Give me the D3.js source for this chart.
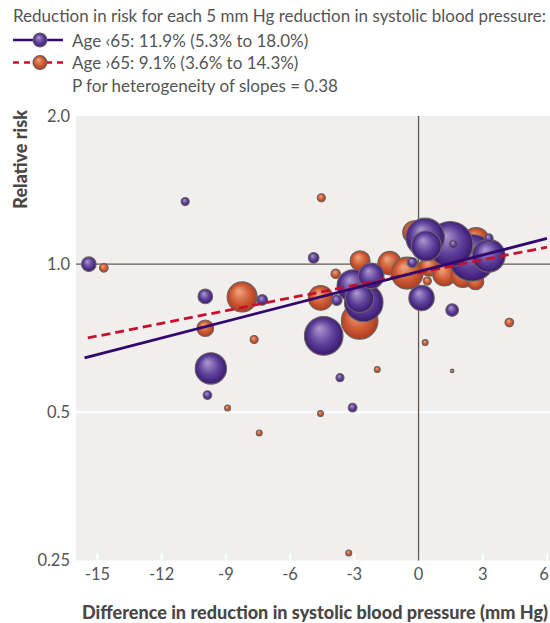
<!DOCTYPE html>
<html><head><meta charset="utf-8">
<script src="https://cdn.jsdelivr.net/npm/d3@7"></script>
<style>
html,body{margin:0;padding:0;background:#fff;}
svg{display:block;font-family:Lato,"Noto Sans",sans-serif;}
</style></head>
<body>
<svg id="chart" width="550" height="623"></svg>
<script>
// ---- data ----
const xTicks = [-15, -12, -9, -6, -3, 0, 3, 6];
const yTicks = [0.25, 0.5, 1.0, 2.0];
const yTickLabels = ["0.25", "0.5", "1.0", "2.0"];

// Age <65 trials: difference in SBP reduction, relative risk, weight
const lt65X  = [2.5, 1.48, 0.31, 0.36, 1.63, 3.28, 3.28, -3.06, -2.56, -2.75, -2.21, -3.82, -0.29, 0.14, 1.57, -4.43, -15.4, -10.9, -4.9, -9.96, -7.3, -9.7, -9.86, -3.67, -3.08];
const lt65RR = [1.03, 1.098, 1.133, 1.089, 1.098, 1.04, 1.129, 0.904, 0.836, 0.852, 0.947, 0.845, 1.008, 0.854, 0.807, 0.715, 1.0, 1.34, 1.03, 0.86, 0.846, 0.614, 0.542, 0.588, 0.511];
const lt65W  = [869, 820, 596, 360, 26, 430, 30, 410, 596, 314, 258, 45, 40, 258, 64, 596, 85, 26, 45, 85, 45, 394, 30, 26, 30];

// Age >=65 trials
const ge65X  = [-14.7, -4.54, -8.24, -9.96, -7.68, -8.92, -7.44, -4.58, -3.26, -1.93, 0.31, 4.24, -4.57, -3.87, -2.75, -2.73, -1.35, -0.53, 0.51, 0.41, -0.19, 2.69, 1.21, 2.07, 2.66, 1.57];
const ge65RR = [0.983, 1.364, 0.858, 0.741, 0.703, 0.51, 0.454, 0.497, 0.259, 0.611, 0.693, 0.761, 0.854, 0.956, 0.767, 1.016, 1.005, 0.959, 0.99, 0.924, 1.16, 1.115, 0.954, 0.947, 0.922, 0.607];
const ge65W  = [30, 26, 360, 110, 26, 14, 14, 14, 14, 14, 14, 30, 242, 35, 536, 160, 220, 410, 160, 26, 220, 283, 220, 220, 110, 5];

// meta-regression lines (endpoints)
const fitLt65X = [-15.6, 6.0], fitLt65RR = [0.645, 1.128];
const fitGe65X = [-15.45, 6.0], fitGe65RR = [0.708, 1.083];

const legendTitle = "Reduction in risk for each 5 mm Hg reduction in systolic blood pressure:";
const legendLabels = ["Age \u203965: 11.9% (5.3% to 18.0%)", "Age \u203a65: 9.1% (3.6% to 14.3%)"];
const legendNote = "P for heterogeneity of slopes = 0.38";
const yTitle = "Relative risk";
const xTitle = "Difference in reduction in systolic blood pressure (mm Hg)";

// ---- chart ----
const svg = d3.select("#chart");
const L = 76, R = 550, T = 116, B = 560.5;
const x = d3.scaleLinear().domain([-16, 6.14]).range([L, R]);
const y = d3.scaleLog().base(2).domain([0.25, 2]).range([B, T]);
const r = d3.scaleSqrt().domain([0, 1000]).range([0, 25]);

const defs = svg.append("defs");
function grad(id, c0, c1, c2) {
  const g = defs.append("radialGradient").attr("id", id)
    .attr("cx", "50%").attr("cy", "50%").attr("r", "55%").attr("fx", "38%").attr("fy", "30%");
  g.append("stop").attr("offset", "0%").attr("stop-color", c0);
  g.append("stop").attr("offset", "55%").attr("stop-color", c1);
  g.append("stop").attr("offset", "100%").attr("stop-color", c2);
}
grad("gp", "#ad9bd0", "#5f429c", "#34106a");
grad("go", "#efa882", "#d05e36", "#a8341a");

svg.append("rect").attr("x", L).attr("y", T).attr("width", R - L).attr("height", B - T).attr("fill", "#f0efed");

// white gridline at 0.5
svg.append("line").attr("x1", L).attr("x2", R).attr("y1", y(0.5)).attr("y2", y(0.5))
  .attr("stroke", "#fff").attr("stroke-width", 2);
// white x tick marks
svg.selectAll(".xt").data(xTicks).enter().append("line")
  .attr("x1", d => x(d)).attr("x2", d => x(d)).attr("y1", B - 7).attr("y2", B)
  .attr("stroke", "#fff").attr("stroke-width", 2);
// reference lines
svg.append("line").attr("x1", L).attr("x2", R).attr("y1", y(1)).attr("y2", y(1))
  .attr("stroke", "#5f5c58").attr("stroke-width", 1.3);
svg.append("line").attr("x1", x(0)).attr("x2", x(0)).attr("y1", T).attr("y2", B)
  .attr("stroke", "#5f5c58").attr("stroke-width", 1.3);

// bubbles
const ge = ge65X.map((v, i) => ({x: v, rr: ge65RR[i], w: ge65W[i]}));
const lt = lt65X.map((v, i) => ({x: v, rr: lt65RR[i], w: lt65W[i]}));
svg.append("g").selectAll("circle").data(ge).enter().append("circle")
  .attr("cx", d => x(d.x)).attr("cy", d => y(d.rr)).attr("r", d => r(d.w))
  .attr("fill", "url(#go)").attr("stroke", "#6a6460").attr("stroke-width", 1.1);
svg.append("g").selectAll("circle").data(lt).enter().append("circle")
  .attr("cx", d => x(d.x)).attr("cy", d => y(d.rr)).attr("r", d => r(d.w))
  .attr("fill", "url(#gp)").attr("stroke", "#6a6460").attr("stroke-width", 1.1);

// fit lines
const line = d3.line().x(d => x(d[0])).y(d => y(d[1]));
svg.append("path").datum(fitGe65X.map((v, i) => [v, fitGe65RR[i]])).attr("d", line)
  .attr("fill", "none").attr("stroke", "#c8102e").attr("stroke-width", 2.8).attr("stroke-dasharray", "9,5");
svg.append("path").datum(fitLt65X.map((v, i) => [v, fitLt65RR[i]])).attr("d", line)
  .attr("fill", "none").attr("stroke", "#33086e").attr("stroke-width", 2.8);

// axis labels
svg.selectAll(".xl").data(xTicks).enter().append("text")
  .attr("x", d => Math.min(x(d), R - 6)).attr("y", 580).attr("text-anchor", "middle")
  .attr("font-size", 16.5).attr("fill", "#555").text(d => d);
svg.selectAll(".yl").data(yTicks).enter().append("text")
  .attr("x", 70).attr("y", d => y(d)).attr("dy", "0.36em").attr("text-anchor", "end")
  .attr("font-size", 16.5).attr("fill", "#555").text((d, i) => yTickLabels[i]);

svg.append("text").attr("transform", "translate(27,110) rotate(-90)").attr("text-anchor", "end")
  .attr("font-size", 18).attr("font-weight", "900").attr("fill", "#4a4746").text(yTitle);
svg.append("text").attr("x", 82).attr("y", 619).attr("font-size", 18).attr("font-weight", "900")
  .attr("fill", "#4a4746").attr("textLength", 466).attr("lengthAdjust", "spacingAndGlyphs").text(xTitle);

// legend
svg.append("text").attr("x", 13).attr("y", 22).attr("font-size", 17).attr("fill", "#555")
  .attr("textLength", 533).attr("lengthAdjust", "spacingAndGlyphs").text(legendTitle);
const lg = [{c: "#33086e", g: "url(#gp)", dash: null}, {c: "#c8102e", g: "url(#go)", dash: "6,5"}];
lg.forEach((d, i) => {
  const yy = 40 + i * 22.5;
  svg.append("line").attr("x1", 13).attr("x2", 63).attr("y1", yy).attr("y2", yy)
    .attr("stroke", d.c).attr("stroke-width", 2.5).attr("stroke-dasharray", d.dash);
  svg.append("circle").attr("cx", 40).attr("cy", yy).attr("r", 7)
    .attr("fill", d.g).attr("stroke", "#6a6460").attr("stroke-width", 1.1);
  svg.append("text").attr("x", 72).attr("y", yy + 6.5).attr("font-size", 17).attr("fill", "#555").text(legendLabels[i]);
});
svg.append("text").attr("x", 72).attr("y", 91.5).attr("font-size", 17).attr("fill", "#555").text(legendNote);
</script>
</body></html>
